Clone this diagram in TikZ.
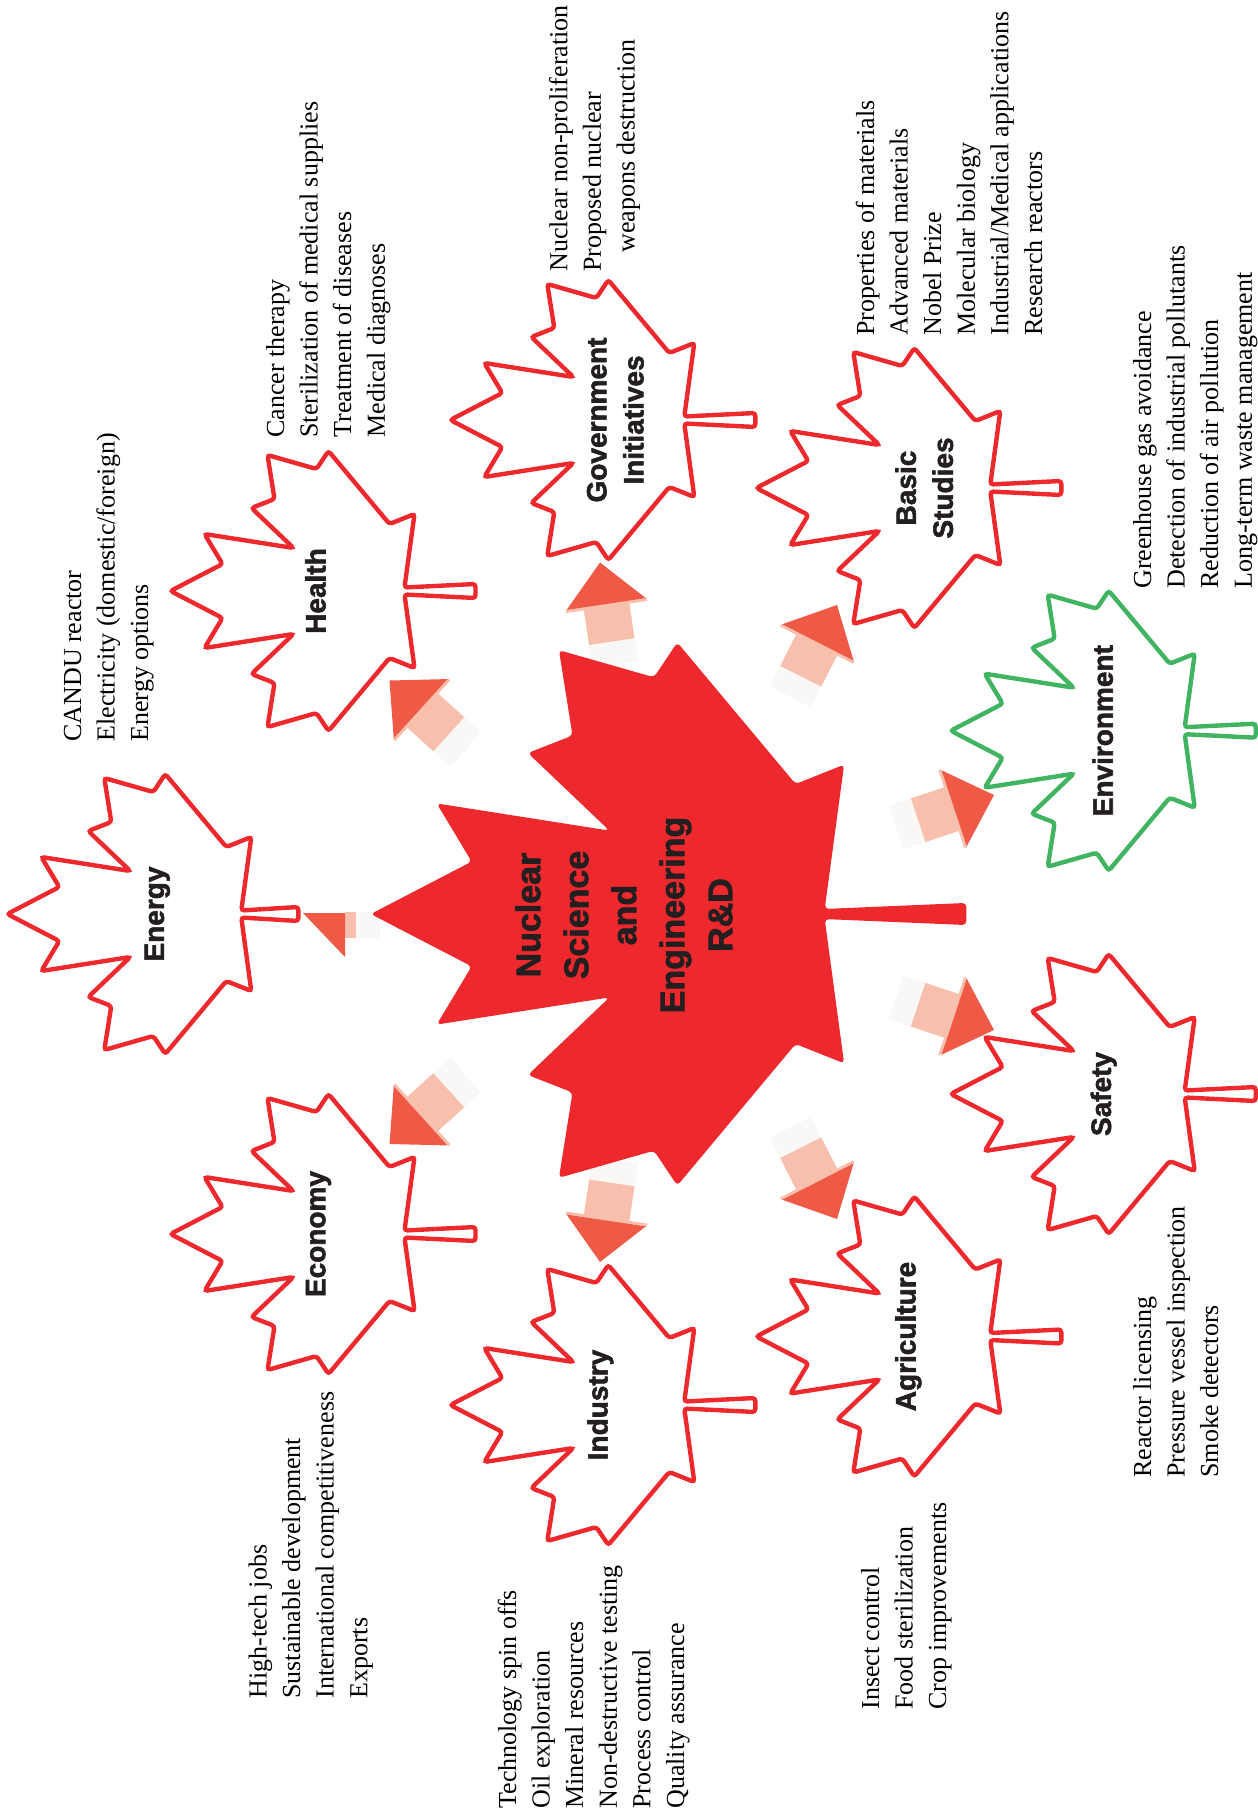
\documentclass[tikz,border=0pt]{standalone}
\usepackage{fontspec}
\setmainfont{Liberation Serif}
\newfontfamily\heavyfont{Liberation Sans}[BoldFeatures={FakeBold=2}]
\usepackage{tikz}

\definecolor{leafred}{RGB}{237,41,46}
\definecolor{leafgreen}{RGB}{64,180,96}
\definecolor{arrowhead}{RGB}{239,90,70}
\definecolor{arrowshaft}{RGB}{248,192,172}
\definecolor{arrowtail}{RGB}{250,248,246}
\definecolor{inkblack}{RGB}{35,31,32}

\tikzset{
  leaflabel/.style={rotate=90,align=center,inner sep=0pt,text=inkblack,
    font=\heavyfont\bfseries\fontsize{14}{18.5}\selectfont},
  coretext/.style={rotate=90,align=center,inner sep=0pt,text=inkblack,
    font=\heavyfont\bfseries\fontsize{17}{24}\selectfont},
  itemlist/.style={rotate=90,anchor=base west,inner sep=0pt,text=black,
    font=\fontsize{13}{16.8}\selectfont}
}

% leaf outline, stem base at the origin, stem pointing right
\newcommand\leafshape[3]{(-236,0) -- (-184,-27) -- (-202,-57) -- (-113,-43)
  -- (-155,-83) -- (-132,-92) -- (-139,-136) -- (-90,-122) -- (-78,-140)
  -- (-17,-67) -- (8,-77) -- (-2,-#2) -- (#1,-#3) -- (#1,#3) -- (-2,#2)
  -- (8,77) -- (-17,67) -- (-78,140) -- (-90,122) -- (-139,136) -- (-132,92)
  -- (-155,83) -- (-113,43) -- (-202,57) -- (-184,27) -- cycle}

\newcommand\leaf[6][69]{%
  \begin{scope}[shift={#3}]
    \path[draw=#4,line width=2.2pt,rounded corners=1.5pt] \leafshape{#1}{3.5}{7};
    \node[leaflabel] (#2) at (#5,0) {#6};
  \end{scope}}

\newcommand\blockarrow[2]{%
  \begin{scope}[shift={#1},rotate=#2]
    \path[fill=arrowtail] (-103,-23) rectangle (-80,23);
    \path[fill=arrowshaft] (-80,-23) rectangle (-42,23);
    \path[fill=arrowshaft] (-45,-41) rectangle (-42,41);
    \path[fill=arrowhead] (0,0) -- (-42,40) -- (-42,-40) -- cycle;
  \end{scope}}

\newcommand\itemlines[1]{\begin{tabular}[t]{@{}l@{}}#1\end{tabular}}

\begin{document}
\begin{tikzpicture}[x=0.5pt,y=-0.5pt]
\useasboundingbox (0,0) rectangle (1257,1818);
% objects at depth 100: arrows
\path[fill=arrowtail] (356,912) rectangle (380,938);
\path[fill=arrowshaft] (345,912) rectangle (356,938);
\path[fill=arrowhead] (303,913) -- (345,913) -- (345,957) -- cycle;
\blockarrow{(389.5,680.5)}{137.8}
\blockarrow{(600,562.5)}{98.5}
\blockarrow{(837,605)}{63}
\blockarrow{(994,795)}{18.4}
\blockarrow{(994,1030)}{-18.4}
\blockarrow{(837,1219)}{-63}
\blockarrow{(600,1262)}{-98.5}
\blockarrow{(389.5,1144)}{-137.8}
% objects at depth 50: leaves
\begin{scope}[shift={(828.6,914)},scale=1.94]
  \path[fill=leafred,rounded corners=2pt] \leafshape{71}{2.6}{5.7};
\end{scope}
\node[coretext] (core) at (624,915) {Nuclear\\Science\\and\\Engineering\\R\&D};
\leaf[55]{energy}{(243.3,914)}{leafred}{-86}{Energy}
\leaf{health}{(406.5,591)}{leafred}{-91}{Health}
\leaf{government}{(686.3,420)}{leafred}{-71}{Government\\Initiatives}
\leaf{basic}{(992.3,488)}{leafred}{-68}{Basic\\Studies}
\leaf{environment}{(1186.7,730.7)}{leafgreen}{-84}{Environment}
\leaf{safety}{(1186.7,1094)}{leafred}{-83}{Safety}
\leaf{agriculture}{(992.3,1336.5)}{leafred}{-84}{Agriculture}
\leaf{industry}{(686.3,1405)}{leafred}{-86}{Industry}
\leaf{economy}{(406.5,1234)}{leafred}{-88}{Economy}
% objects at depth 0: lists
\node[itemlist] (energylist) at (81,742)
  {\itemlines{CANDU reactor\\Electricity (domestic/foreign)\\Energy options}};
\node[itemlist] (healthlist) at (284,438)
  {\itemlines{Cancer therapy\\Sterilization of medical supplies\\Treatment of diseases\\Medical diagnoses}};
\node[itemlist] (governmentlist) at (567.3,272)
  {\itemlines{Nuclear non-proliferation\\Proposed nuclear\\\hspace*{9.5pt}weapons destruction}};
\node[itemlist] (basiclist) at (874,336)
  {\itemlines{Properties of materials\\Advanced materials\\Nobel Prize\\Molecular biology\\Industrial/Medical applications\\Research reactors}};
\node[itemlist] (environmentlist) at (1151,589)
  {\itemlines{Greenhouse gas avoidance\\Detection of industrial pollutants\\Reduction of air pollution\\Long-term waste management}};
\node[itemlist] (safetylist) at (1151,1478)
  {\itemlines{Reactor licensing\\Pressure vessel inspection\\Smoke detectors}};
\node[itemlist] (agriculturelist) at (879,1710)
  {\itemlines{Insect control\\Food sterilization\\Crop improvements}};
\node[itemlist] (industrylist) at (516,1809)
  {\itemlines{Technology spin offs\\Oil exploration\\Mineral resources\\Non-destructive testing\\Process control\\Quality assurance}};
\node[itemlist] (economylist) at (266.5,1699)
  {\itemlines{High-tech jobs\\Sustainable development\\International competitiveness\\Exports}};
\end{tikzpicture}
\end{document}
